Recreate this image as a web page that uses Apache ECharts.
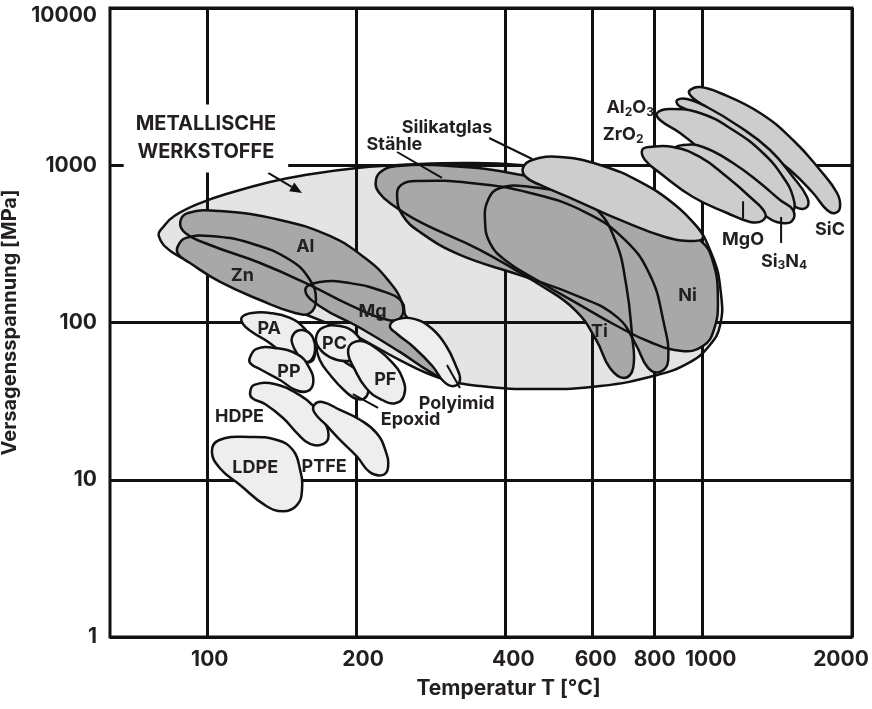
<!DOCTYPE html>
<html>
<head>
<meta charset="utf-8">
<script src="https://cdn.jsdelivr.net/npm/echarts@6/dist/echarts.min.js"></script>
<style>
html, body { margin: 0; padding: 0; background: #fff; }
#chart { width: 872px; height: 709px; }
</style>
</head>
<body>
<div id="chart"></div>
<script>
// Axis ticks
const tempTicks = [100, 200, 400, 600, 800, 1000, 2000];   // °C
const stressRange = [1, 10000];                            // MPa

// Material fields, outlines as [temperature °C, failure stress MPa]
const metalEnvelope = [[80,355],[82,411],[86,476],[97,575],[113,676],[134,783],[154,855],[201,961],[269,1019],[340,1034],[428,1004],[566,906],[748,696],[943,449],[1044,269],[1089,150],[1084,96],[1034,72],[943,56],[802,46],[621,39.4],[470,37.7],[356,39.4],[295,44.4],[245,57.7],[194.5,85.7],[154,116.6],[122,161],[97,229],[85,281]];
const aluminium = [[88.4,436],[91.7,497],[106.4,511],[140.5,449],[177,355],[208.5,257],[232,186],[247.6,133],[246.5,108.4],[232,103.7],[194.5,129],[161.5,173],[128.1,239],[101.5,311],[90.5,371]];
const zinc = [[87.5,307],[90.9,345],[101.5,355],[122.3,320],[147.2,249.7],[161.5,186.3],[166,139],[161.5,115],[150.7,115],[128.1,139],[106.4,181],[92.5,239],[87.5,273]];
const magnesium = [[158,161],[169,181],[194.5,178],[229,156],[247.6,135],[252,110],[269,92.3],[295,69.9],[309,51.4],[304,43.7],[282,48.5],[245,65],[204,92.3],[169,127]];
const steelOuter = [[219,771],[224,906],[243,989],[309,989],[409,893],[516,738],[607,534],[666,335],[701,173],[720,83.3],[724,51.4],[694,44.4],[650,51.4],[610,77.4],[553,120],[470,173],[356,289],[269,436],[234,575],[222,676]];
const steelInner = [[242,628],[246.5,749],[267,794],[340,771],[449,666],[579,504],[697,335],[783,200],[832,104],[852,57.7],[820,48.5],[776,51.4],[734,71.9],[675,107],[566,145],[428,200],[324,269],[269,376],[248,483]];
const nickel = [[364,436],[369,601],[390,717],[449,728],[566,637],[714,504],[880,388],[987,335],[1049,243],[1073,139],[1053,89.6],[1001,70.9],[909,65.9],[783,75.2],[666,96.4],[566,129],[470,181],[399,250],[372.5,320]];
const silicateGlass = [[434,961],[453,1080],[516,1129],[621,1004],[748,783],[880,559],[978,399],[1001,345],[956,330],[840,350],[681,449],[553,601],[470,749],[440,842]];
const siliconCarbide = [[943,3009],[987,3144],[1084,2880],[1305,2149],[1521,1447],[1724,933],[1866,666],[1892,542],[1848,497],[1781,519],[1669,666],[1500,933],[1305,1306],[1120,1857],[987,2487],[943,2797]];
const ceramicMid = [[888,2599],[930,2638],[1020,2346],[1189,1751],[1367,1250],[1521,842],[1623,628],[1623,542],[1557,534],[1479,601],[1348,806],[1189,1129],[1034,1676],[930,2245],[892,2416]];
const alumina = [[809,2149],[859,2278],[987,2149],[1151,1676],[1323,1196],[1452,842],[1521,628],[1521,504],[1452,483],[1348,575],[1206,771],[1034,1129],[900,1604],[820,1940]];
const siliconNitride = [[871,1250],[913,1345],[1001,1306],[1151,1034],[1305,771],[1432,601],[1521,519],[1514,442],[1445,429],[1348,469],[1228,601],[1068,806],[956,975],[888,1129]];
const zirconia = [[755,1250],[783,1306],[871,1306],[987,1129],[1120,842],[1246,628],[1336,497],[1317,442],[1246,436],[1120,497],[956,628],[820,893],[765,1080]];
const polyamide = [[117.8,108.4],[123.4,115],[134.2,115],[147.2,107],[157,92.3],[164,74.1],[165,61.3],[161.5,56],[153,56],[144,62.2],[133,75.2],[123.4,87],[118.3,97.8]];
const polyamideLoop = [[148.6,80.9],[152,88.3],[158.6,88.3],[163.8,79.7],[165.3,66.9],[162.3,57.7],[156.4,56.9],[151.4,65],[148.6,74.1]];
const hdpe = [[122.3,36.1],[124.6,40.1],[137,40.6],[154,34.5],[165,29],[172,24],[176,19.2],[172,16.9],[161.5,16.9],[152,19.8],[142.5,24.7],[131,30.3],[123.4,33.1]];
const ldpe = [[102.4,15.1],[106,17.9],[122.3,18.7],[138.6,17.9],[149,15.5],[154,11.8],[155.6,8.6],[152,6.9],[142.5,6.3],[131,6.9],[116.7,9.26],[106.4,11.8]];
const ptfe = [[164.5,29.8],[171,31.2],[185.6,27.8],[204,24],[220,19.8],[229,15.5],[232,12],[226,10.7],[213,11.2],[201,14],[185.6,17.9],[174,22.3],[165,26.6]];
const polypropylene = [[122.3,60.3],[126,67.9],[137,68.9],[153,62.2],[161,51.4],[164,41.9],[160,36.7],[151,37.2],[140.5,43.1],[129,49.9],[122.3,55.2]];
const epoxy = [[167.6,70.9],[177,65],[190,56],[204,47.8],[211,40.1],[210,34],[201,32.6],[189,37.2],[178,45.7],[169,57.7]];
const polycarbonate = [[166,79.7],[171,92.3],[185.6,95],[200,84.5],[205.6,68.9],[202,59.4],[190,56.9],[177,60.3],[168.4,68.9]];
const phenolic = [[194.5,71.9],[204,76.3],[216,70.9],[234,57.7],[248,44.4],[250,34.5],[240,30.7],[224,32.6],[209.5,38.3],[198,51.4],[193,62.2]];
const polyimide = [[234,95],[243,105],[263,105],[285,90.9],[304,70.9],[318,52.9],[324,43.1],[315,39.4],[301,41.9],[285,52.9],[261,69.9],[242,84.5]];

// Text labels: [text, temperature °C, stress MPa]
const fieldLabels = [
  ['Al', 158, 304], ['Zn', 118, 199], ['Mg', 216, 117.5], ['Ti', 619, 87.7], ['Ni', 932, 148.6],
  ['Stähle', 239, 1345], ['Silikatglas', 305, 1726],
  ['Al{s|2}O{s|3}', 714, 2312], ['ZrO{s|2}', 691, 1558], ['MgO', 1206, 335], ['Si{s|3}N{s|4}', 1459, 243], ['SiC', 1806, 388],
  ['PA', 133.6, 91.6], ['PC', 181, 73], ['PP', 146.5, 48.8], ['PF', 229, 43.1],
  ['HDPE', 116.4, 25.1], ['LDPE', 125.2, 11.9], ['PTFE', 172.4, 12.2], ['Epoxid', 257.6, 24], ['Polyimid', 319, 30.7]
];
const groupLabel = ['METALLISCHE\nWERKSTOFFE', 99.6, 1480];

// Leader lines: [T1, σ1, T2, σ2]
const leaders = [
  [242, 1214, 298, 830],
  [371, 1490, 453, 1096],
  [1206, 590, 1206, 458],
  [1439, 469, 1439, 320],
  [197, 35.1, 221.5, 28.6],
  [305, 53.6, 324, 38.3]
];
const groupArrow = [[133, 893, 155.6, 666]];

// Horizontal nudge (px) of individual temperature tick labels
const tickNudge = { 100: 3, 200: 7, 400: 8, 600: 3, 800: 0, 1000: 8, 2000: -11 };

const FONT = 'Inter, "Noto Sans", "DejaVu Sans", sans-serif';
const INK = '#231f20';
const LINE = '#111';
const C_ENVELOPE = '#e4e4e4';
const C_METAL = '#a9a8a8';
const C_CERAMIC = '#cdcdcd';
const C_POLYMER = '#efeeee';

// One custom series per field; drawn once, through the axes' scales
function field(points, fill, order, mode, z) {
  return {
    type: 'custom',
    coordinateSystem: 'cartesian2d',
    z: z == null ? 3 : z,
    silent: true,
    animation: false,
    data: points,
    encode: { x: 0, y: 1 },
    renderItem: function (params, api) {
      if (params.dataIndex !== 0) return null;
      const pts = points.map(function (p) { return api.coord(p); });
      return {
        type: 'polygon',
        z2: order,
        shape: { points: pts, smooth: 0.45 },
        style: {
          fill: mode === 'stroke' ? 'none' : fill,
          stroke: mode === 'fill' ? 'none' : LINE,
          lineWidth: 2.5,
          lineJoin: 'round'
        }
      };
    }
  };
}

const metals = [aluminium, zinc, magnesium, steelOuter, steelInner, nickel];
const ceramics = [siliconCarbide, ceramicMid, alumina, siliconNitride, zirconia];
const polymers = [polyamide, polyamideLoop, hdpe, ldpe, ptfe, polypropylene, epoxy, polycarbonate, phenolic, polyimide];

const series = [];
series.push(field(metalEnvelope, C_ENVELOPE, 0, 'both', 1));
metals.forEach(function (m, i) { series.push(field(m, C_METAL, 1 + i, 'fill')); });
metals.forEach(function (m, i) { series.push(field(m, C_METAL, 10 + i, 'stroke')); });
series.push(field(silicateGlass, C_CERAMIC, 20, 'both'));
ceramics.forEach(function (c, i) { series.push(field(c, C_CERAMIC, 21 + i, 'both')); });
polymers.forEach(function (p, i) { series.push(field(p, C_POLYMER, 30 + i, 'both')); });

// Leader lines
series.push({
  type: 'custom', coordinateSystem: 'cartesian2d', z: 9, silent: true, animation: false,
  data: leaders, encode: { x: [0, 2], y: [1, 3] },
  renderItem: function (params, api) {
    const a = api.coord([api.value(0), api.value(1)]);
    const b = api.coord([api.value(2), api.value(3)]);
    return { type: 'line', shape: { x1: a[0], y1: a[1], x2: b[0], y2: b[1] },
      style: { stroke: LINE, lineWidth: 2 } };
  }
});

// Arrow from the group label into the metals field
series.push({
  type: 'custom', coordinateSystem: 'cartesian2d', z: 9, silent: true, animation: false,
  data: groupArrow, encode: { x: [0, 2], y: [1, 3] },
  renderItem: function (params, api) {
    const a = api.coord([api.value(0), api.value(1)]);
    const b = api.coord([api.value(2), api.value(3)]);
    const dx = b[0] - a[0], dy = b[1] - a[1];
    const len = Math.sqrt(dx * dx + dy * dy);
    const ux = dx / len, uy = dy / len;
    const hl = 12, hw = 5;
    const bx = b[0] - ux * hl, by = b[1] - uy * hl;
    return { type: 'group', children: [
      { type: 'line', shape: { x1: a[0], y1: a[1], x2: bx, y2: by }, style: { stroke: LINE, lineWidth: 2 } },
      { type: 'polygon', shape: { points: [[b[0], b[1]], [bx - uy * hw, by + ux * hw], [bx + uy * hw, by - ux * hw]] },
        style: { fill: LINE } }
    ] };
  }
});

const subStyle = { fontSize: 12, fontWeight: 'bold', fontFamily: FONT, fill: INK, padding: [8, 0, 0, 0] };

// Field names
series.push({
  type: 'custom', coordinateSystem: 'cartesian2d', z: 10, silent: true, animation: false,
  data: fieldLabels.map(function (l) { return [l[1], l[2]]; }), encode: { x: 0, y: 1 },
  renderItem: function (params, api) {
    const p = api.coord([api.value(0), api.value(1)]);
    const txt = fieldLabels[params.dataIndex][0];
    return { type: 'text', x: p[0], y: p[1],
      style: { text: txt, fill: INK, fontSize: 18, fontWeight: 'bold', fontFamily: FONT,
        align: 'center', verticalAlign: 'middle', rich: { s: subStyle } } };
  }
});

// Group label with a white box over the grid
series.push({
  type: 'custom', coordinateSystem: 'cartesian2d', z: 10, silent: true, animation: false,
  data: [[groupLabel[1], groupLabel[2]]], encode: { x: 0, y: 1 },
  renderItem: function (params, api) {
    const p = api.coord([api.value(0), api.value(1)]);
    return { type: 'text', x: p[0], y: p[1],
      style: { text: groupLabel[0], fill: INK, fontSize: 20, fontWeight: 'bold', fontFamily: FONT,
        lineHeight: 28, align: 'center', verticalAlign: 'middle',
        backgroundColor: '#fff', padding: [6, 12] } };
  }
});

const axisFont = { color: INK, fontFamily: FONT, fontSize: 21, fontWeight: 'bold' };

// Rich styles that shift each temperature label sideways by its nudge
const tempRich = {};
tempTicks.forEach(function (t) {
  const s = tickNudge[t] || 0;
  tempRich['t' + t] = Object.assign({ padding: s >= 0 ? [0, 0, 0, 2 * s] : [0, -2 * s, 0, 0] }, axisFont);
});

const option = {
  animation: false,
  backgroundColor: '#fff',
  grid: { left: 110, right: 20, top: 8, bottom: 72, show: true, borderColor: LINE, borderWidth: 3,
    backgroundColor: 'transparent', containLabel: false, outerBoundsMode: 'none' },
  xAxis: {
    type: 'log', logBase: 10, min: 63.8, max: 2000, z: 2,
    axisLine: { show: false },
    axisTick: { show: false, customValues: tempTicks },
    axisLabel: Object.assign({ customValues: tempTicks, margin: 12,
      formatter: function (v) { return '{t' + v + '|' + v + '}'; },
      rich: tempRich }, axisFont),
    splitLine: { show: true, customValues: tempTicks, lineStyle: { color: LINE, width: 3 } },
    name: 'Temperatur T [°C]', nameLocation: 'middle', nameGap: 41,
    nameTextStyle: Object.assign({ padding: [0, 0, 0, 55] }, axisFont)
  },
  yAxis: {
    type: 'log', logBase: 10, min: stressRange[0], max: stressRange[1], z: 2,
    axisLine: { show: false },
    axisTick: { show: false },
    axisLabel: Object.assign({ margin: 13,
      formatter: function (v) { return v === 10000 ? '{t|10000}' : String(v); },
      rich: { t: Object.assign({ padding: [16, 0, 0, 0] }, axisFont) } }, axisFont),
    splitLine: { show: true, lineStyle: { color: LINE, width: 3 } },
    name: 'Versagensspannung [MPa]', nameLocation: 'middle', nameGap: 78,
    nameTextStyle: Object.assign({}, axisFont, { fontSize: 20 })
  },
  series: series
};

const chart = echarts.init(document.getElementById('chart'));
chart.setOption(option);
</script>
</body>
</html>
